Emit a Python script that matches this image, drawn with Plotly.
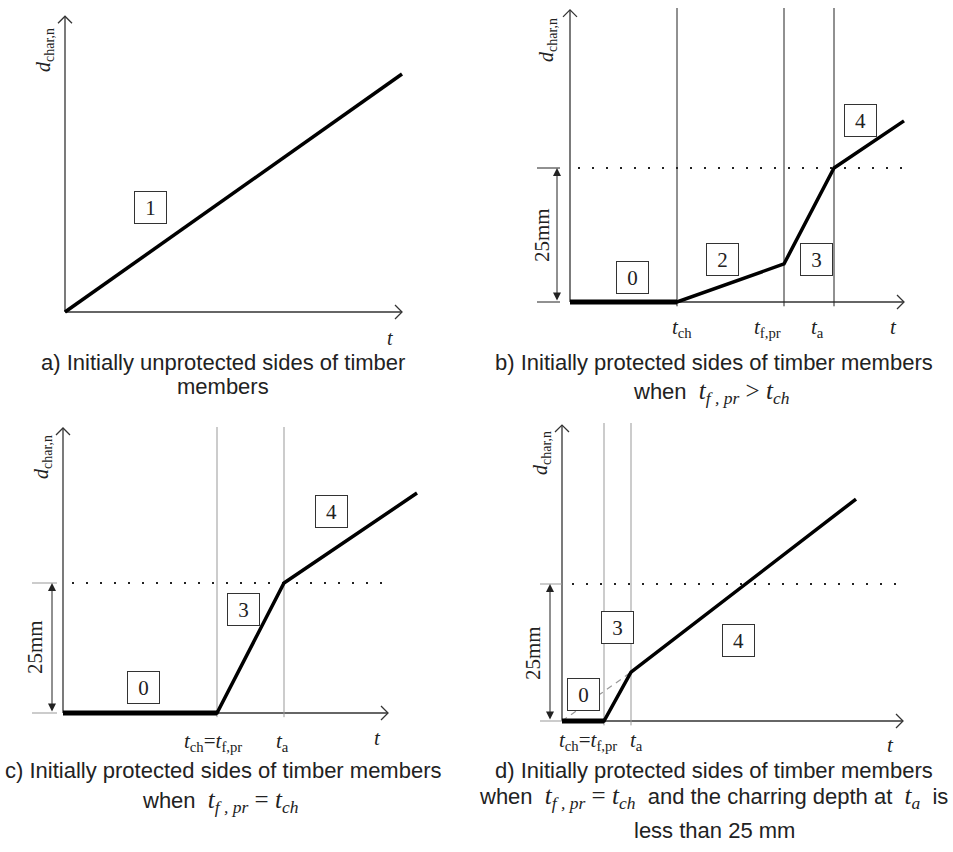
import plotly.graph_objects as go

W, H = 953, 852
SERIF = "Liberation Serif"
SANS = "Liberation Sans"

# ---------------- data (t in arbitrary time units, d in mm) ----------------
LIMIT_MM = 25

# a) unprotected
a_t = [0, 67.4]
a_d = [0, 44.9]

# b) protected, t_f,pr > t_ch
b_t = [0, 21.4, 42.8, 52.8, 66.8]
b_d = [0, 0, 7.1, 25, 33.8]
b_marks = [21.4, 42.8, 52.8]          # t_ch, t_f,pr, t_a
b_mark_labels = ["<i>t</i><sub>ch</sub>", "<i>t</i><sub>f,pr</sub>", "<i>t</i><sub>a</sub>"]

# c) protected, t_f,pr = t_ch
c_t = [0, 30.8, 44.2, 70.8]
c_d = [0, 0, 25, 42.3]
c_marks = [30.8, 44.2]                # t_ch = t_f,pr, t_a

# d) protected, t_f,pr = t_ch, depth at t_a < 25 mm
d_t = [0, 8.4, 13.8, 58.8]
d_d = [0, 0, 8.9, 40.5]
d_marks = [8.4, 13.8]
d_dash_t = [0, 13.8]
d_dash_d = [0, 8.9]

# ---------------- panel geometry (pixels) ----------------
panels = {
    "a": dict(reg=(0, 476, 0, 420), org=(65, 312), sx=5.0, sy=5.3, xend=67.4, ytop=55.8),
    "b": dict(reg=(476, 953, 0, 420), org=(570, 302), sx=5.0, sy=5.36, xend=66.8, ytop=54.5),
    "c": dict(reg=(0, 476, 420, 852), org=(63, 713), sx=5.0, sy=5.2, xend=65.0, ytop=54.8),
    "d": dict(reg=(476, 953, 420, 852), org=(562, 721), sx=5.0, sy=5.48, xend=68.2, ytop=54.0),
}
order = ["a", "b", "c", "d"]

layout = dict(width=W, height=H, margin=dict(l=0, r=0, t=0, b=0),
              plot_bgcolor="white", paper_bgcolor="white", showlegend=False)
refs = {}
for i, k in enumerate(order):
    p = panels[k]
    x0, x1, y0, y1 = p["reg"]
    ox, oy = p["org"]
    suffix = "" if i == 0 else str(i + 1)
    layout["xaxis" + suffix] = dict(domain=[x0 / W, x1 / W],
                                    range=[(x0 - ox) / p["sx"], (x1 - ox) / p["sx"]],
                                    visible=False, fixedrange=True)
    layout["yaxis" + suffix] = dict(domain=[1 - y1 / H, 1 - y0 / H],
                                    range=[(oy - y1) / p["sy"], (oy - y0) / p["sy"]],
                                    visible=False, fixedrange=True)
    refs[k] = ("x" + suffix, "y" + suffix)

fig = go.Figure()
ann = []


def px2d(k, x, y):
    p = panels[k]
    return (x - p["org"][0]) / p["sx"], (p["org"][1] - y) / p["sy"]


def line(k, xs, ys, color="black", width=1.0, dash=None):
    xr, yr = refs[k]
    fig.add_trace(go.Scatter(x=xs, y=ys, mode="lines", xaxis=xr, yaxis=yr,
                             line=dict(color=color, width=width, dash=dash),
                             hoverinfo="skip"))


def arrow(k, x, y, ax, ay, color="#333", width=1.2, head=4, size=1.4, side="end"):
    xr, yr = refs[k]
    ann.append(dict(x=x, y=y, ax=ax, ay=ay, xref=xr, yref=yr, axref=xr, ayref=yr,
                    showarrow=True, arrowhead=head, startarrowhead=head, arrowsize=size,
                    startarrowsize=size, arrowwidth=width, arrowcolor=color,
                    arrowside=side, text=""))


def lab(x, y, text, size=20, angle=0, family=SERIF, color="#222"):
    ann.append(dict(xref="paper", yref="paper", x=x / W, y=1 - y / H, text=text,
                    showarrow=False, textangle=angle, xanchor="center", yanchor="middle",
                    font=dict(family=family, size=size, color=color)))


def box(x, y, text):
    ann.append(dict(xref="paper", yref="paper", x=x / W, y=1 - y / H, text=text,
                    showarrow=False, xanchor="center", yanchor="middle",
                    bgcolor="white", bordercolor="#333", borderwidth=1, borderpad=1,
                    width=29, height=29,
                    font=dict(family=SERIF, size=21, color="#222")))


def axes(k):
    """Axis lines with open chevron arrow heads (7 px arms)."""
    p = panels[k]
    hx, hy = 7 / p["sx"], 7 / p["sy"]
    xe, yt = p["xend"], p["ytop"]
    line(k, [0, xe, None, xe - hx, xe, xe - hx], [0, 0, None, hy, 0, -hy], color="#333", width=1.3)
    line(k, [0, 0, None, -hx, 0, hx], [0, yt, None, yt - hy, yt, yt - hy], color="#333", width=1.3)


def verticals(k, marks, top, color, width=1.0, below=-0.8):
    xs, ys = [], []
    for m in marks:
        xs += [m, m, None]
        ys += [below, top, None]
    line(k, xs, ys, color=color, width=width)


def dims(k, x_from, x_to, x_arr, color):
    line(k, [x_from, x_to, None, x_from, x_to], [0, 0, None, LIMIT_MM, LIMIT_MM], color=color, width=1.0)
    arrow(k, x_arr, LIMIT_MM, x_arr, 0, color="#222", width=1.0, head=2, size=1.6, side="end+start")


# ---------------- panel a ----------------
axes("a")
line("a", a_t, a_d, width=3.5)
lab(45, 50, "<i>d</i><sub>char,n</sub>", 20, -90)
lab(390, 338, "<i>t</i>", 20)
box(150, 208, "1")

# ---------------- panel b ----------------
axes("b")
verticals("b", b_marks, px2d("b", 0, 8)[1], "#222")
line("b", [px2d("b", 578, 0)[0], px2d("b", 905, 0)[0]], [LIMIT_MM, LIMIT_MM], color="#222", width=2, dash="2px,12px")
dims("b", px2d("b", 537, 0)[0], px2d("b", 560, 0)[0], px2d("b", 557, 0)[0], "#222")
line("b", b_t, b_d, width=3.5)
line("b", b_t[:2], b_d[:2], width=5)
lab(547, 40, "<i>d</i><sub>char,n</sub>", 20, -90)
lab(542, 235, "25mm", 21, -90)
for xl, t in zip([682, 767, 817], b_mark_labels):
    lab(xl, 328, t, 21)
lab(893, 327, "<i>t</i>", 21)
box(632, 277, "0")
box(722, 259, "2")
box(816, 259, "3")
box(860, 120, "4")

# ---------------- panel c ----------------
axes("c")
verticals("c", c_marks, px2d("c", 0, 427)[1], "#999")
line("c", [px2d("c", 72, 0)[0], px2d("c", 390, 0)[0]], [LIMIT_MM, LIMIT_MM], color="#222", width=2, dash="2px,12px")
dims("c", px2d("c", 32, 0)[0], px2d("c", 57, 0)[0], px2d("c", 52, 0)[0], "#999")
line("c", c_t, c_d, width=3.5)
line("c", c_t[:2], c_d[:2], width=5)
lab(42, 457, "<i>d</i><sub>char,n</sub>", 20, -90)
lab(35, 647, "25mm", 21, -90)
lab(213, 742, "<i>t</i><sub>ch</sub>=<i>t</i><sub>f,pr</sub>", 21)
lab(282, 742, "<i>t</i><sub>a</sub>", 21)
lab(377, 738, "<i>t</i>", 21)
box(143, 687, "0")
box(243, 609, "3")
box(331, 511, "4")

# ---------------- panel d ----------------
axes("d")
verticals("d", d_marks, px2d("d", 0, 423)[1], "#999")
line("d", [px2d("d", 572, 0)[0], px2d("d", 903, 0)[0]], [LIMIT_MM, LIMIT_MM], color="#222", width=2, dash="2px,12px")
dims("d", px2d("d", 540, 0)[0], px2d("d", 562, 0)[0], px2d("d", 550, 0)[0], "#999")
line("d", d_dash_t, d_dash_d, color="#999", width=1.2, dash="6px,5px")
line("d", d_t, d_d, width=3.5)
line("d", d_t[:2], d_d[:2], width=5)
lab(542, 453, "<i>d</i><sub>char,n</sub>", 20, -90)
lab(533, 653, "25mm", 21, -90)
lab(588, 741, "<i>t</i><sub>ch</sub>=<i>t</i><sub>f,pr</sub>", 21)
lab(636, 741, "<i>t</i><sub>a</sub>", 21)
lab(890, 745, "<i>t</i>", 21)
box(583, 694, "0")
box(617, 627, "3")
box(738, 640, "4")

# ---------------- captions ----------------
SP = "&nbsp; "
MS = "<span style=\"font-family:Liberation Serif;font-size:25px\">"
MATH = MS + "<i>t</i><sub><i>f , pr</i></sub> {op} <i>t</i><sub><i>ch</i></sub></span>"
CS = 22
lab(223, 362, "a) Initially unprotected sides of timber", CS, family=SANS)
lab(223, 387, "members", CS, family=SANS)
lab(714, 362, "b) Initially protected sides of timber members", CS, family=SANS)
lab(711, 392, "when" + SP + MATH.format(op="&gt;"), CS, family=SANS)
lab(223, 770, "c) Initially protected sides of timber members", CS, family=SANS)
lab(220, 801, "when" + SP + MATH.format(op="="), CS, family=SANS)
lab(714, 770, "d) Initially protected sides of timber members", CS, family=SANS)
lab(713, 797, "when" + SP + MATH.format(op="=")
    + SP + "and the charring depth at" + SP + MS + "<i>t</i><sub><i>a</i></sub></span>" + SP + "is",
    CS, family=SANS)
lab(714, 830, "less than 25 mm", CS, family=SANS)

fig.update_layout(**layout)
fig.update_layout(annotations=ann)
fig.write_html("out.html")
